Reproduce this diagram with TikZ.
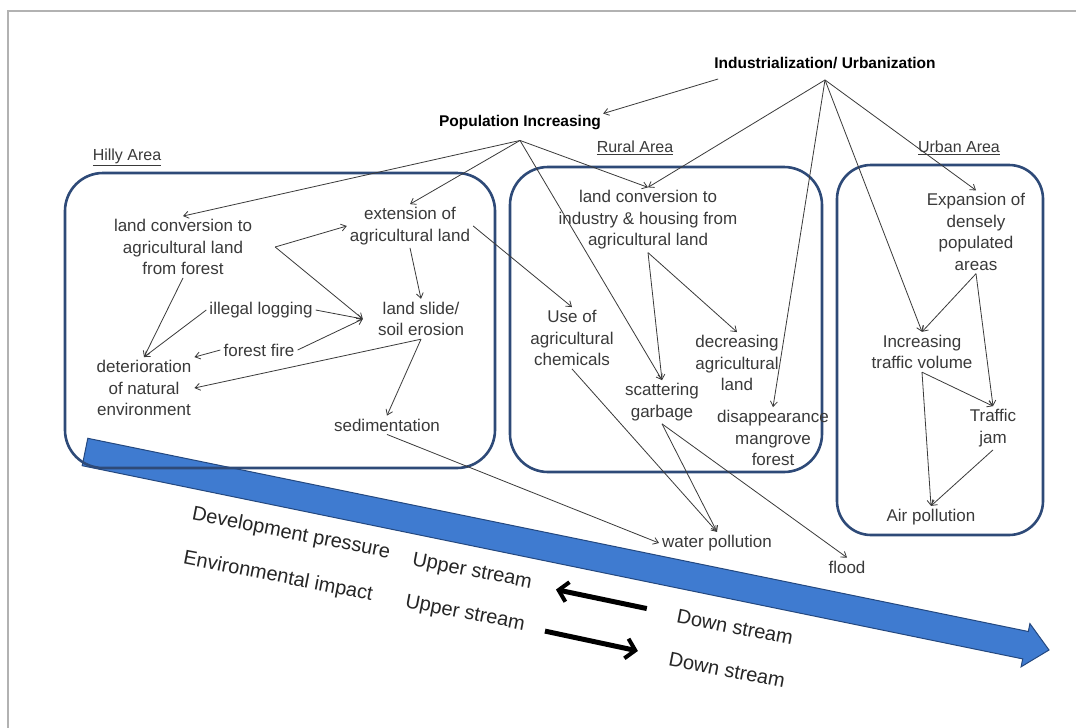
\documentclass[tikz,border=0pt]{standalone}
\usepackage{fontspec}
\setmainfont{Liberation Sans}
\usetikzlibrary{arrows.meta, positioning}
\definecolor{boxcol}{HTML}{2E4A78}
\definecolor{flowcol}{HTML}{3F7BD0}
\definecolor{flowedge}{HTML}{24487F}
\definecolor{inkcol}{HTML}{3A3A3A}

\begin{document}
\begin{tikzpicture}[x=1pt, y=-1pt,
  txt/.style={font=\fontsize{17}{21.5}\selectfont, text=inkcol, align=center, inner sep=3pt},
  head/.style={font=\fontsize{15.5}{18}\selectfont\bfseries, text=black, inner sep=2pt},
  area/.style={font=\fontsize{16}{19}\selectfont, text=inkcol, inner sep=2pt},
  region/.style={draw=boxcol, line width=2.6pt, rounded corners=38pt},
  conn/.style={-{Straight Barb[length=5pt, width=7pt]}, line width=0.8pt, draw=inkcol},
  stream/.style={font=\fontsize{20}{24}\selectfont, text=black!85, rotate=-11, inner sep=0pt},
  fat/.style={-{Straight Barb[length=9pt, width=20pt, line width=4pt]}, line width=5pt, black}
]
\useasboundingbox (0,0) rectangle (1076,728);
\fill[white] (0,0) rectangle (1076,728);
\draw[black!30, line width=1.5pt] (8,728) -- (8,11) -- (1076,11);

% River arrow
\filldraw[fill=flowcol, draw=flowedge, line width=1pt]
  (87.8,438.3) -- (1028.3,631.5) -- (1029.9,623.6) -- (1049,650)
  -- (1021.1,666.8) -- (1022.7,658.9) -- (82.2,465.7) -- cycle;

% Area boxes
\draw[region] (65,173) rectangle (495,468);
\draw[region] (510,167) rectangle (822,472);
\draw[region, rounded corners=34pt] (837,165) rectangle (1043,535);

% Drivers
\node[head] (ind) at (825,63) {Industrialization/ Urbanization};
\node[head] (pop) at (520,123) {Population Increasing};
\coordinate[below=9pt of ind.south] (indTip);
\coordinate[below=8pt of pop.south] (popTip);

% Area labels
\node[area] (hilly) at (127,157) {\underline{Hilly Area}};
\node[area] (rural) at (635,148) {\underline{Rural Area}};
\node[area] (urban) at (959,148) {\underline{Urban Area}};

% Hilly area
\node[txt] (lcf) at (183,247) {land conversion to\\agricultural land\\from forest};
\node[txt] (eal) at (410,226) {extension of\\agricultural land};
\node[txt] (il) at (261,310) {illegal logging};
\node[txt] (lsl) at (421,319) {land slide/\\soil erosion};
\node[txt] (ff) at (259,350) {forest fire};
\node[txt] (dne) at (144,388) {deterioration\\of natural\\environment};
\node[txt] (sed) at (387,425) {sedimentation};
\coordinate[right=20pt of lcf.east] (lcfOut);
\coordinate[left=12pt of lsl.west] (lslIn);

% Rural area
\node[txt] (lci) at (648,220) {land conversion to\\industry \& housing from\\agricultural land};
\node[txt] (uac) at (572,338) {Use of\\agricultural\\chemicals};
\node[txt] (dal) at (737,363) {decreasing\\agricultural\\land};
\node[txt] (sg) at (662,402) {scattering\\garbage};
\node[txt] (dmf) at (773,438) {disappearance\\mangrove\\forest};

% Urban area
\node[txt] (edp) at (976,232) {Expansion of\\densely\\populated\\areas};
\node[txt] (itv) at (922,352) {Increasing\\traffic volume};
\node[txt] (tj) at (993,428) {Traffic\\jam};
\node[txt] (ap) at (931,517) {Air pollution};

% Downstream effects
\node[txt] (wp) at (717,543) {water pollution};
\node[txt] (fl) at (847,567) {flood};

% Stream texts
\node[stream] (dp) at (291,534) {Development pressure};
\node[stream] (ei) at (278,577) {Environmental impact};
\node[stream] (us1) at (472,572) {Upper stream};
\node[stream] (us2) at (465,614) {Upper stream};
\node[stream] (ds1) at (735,627) {Down stream};
\node[stream] (ds2) at (727,670) {Down stream};
\draw[fat, shorten <=31pt, shorten >=25pt] (ds1) -- (us1);
\draw[fat, shorten <=21pt, shorten >=32pt] (us2) -- (ds2);

% Driver links
\draw[conn] ([xshift=6pt, yshift=-8pt]ind.south west) -- (pop.north east);
\foreach \t in {lci, dmf, itv, edp}
  \draw[conn] (indTip) -- (\t.north);
\foreach \t in {lcf, eal, lci, sg}
  \draw[conn] (popTip) -- (\t.north);

% Hilly links
\draw[conn] (lcfOut) -- (eal.west);
\draw[conn] (lcfOut) -- (lslIn);
\draw[conn] (eal.south) -- (lsl.north);
\draw[conn] (il.east) -- (lslIn);
\draw[conn] (ff.east) -- (lslIn);
\draw[conn] (lcf.south) -- (dne.north);
\draw[conn] (il.west) -- (dne.north);
\draw[conn] (ff.west) -- (dne.north east);
\draw[conn] (lsl.south) -- (dne.east);
\draw[conn] (lsl.south) -- (sed.north);
\draw[conn] (sed.south) -- (wp.west);
\draw[conn] (eal.east) -- (uac.north);

% Rural links
\draw[conn] (lci.south) -- (sg.north);
\draw[conn] (lci.south) -- (dal.north);
\draw[conn] (uac.south) -- (wp.north);
\draw[conn] (sg.south) -- (wp.north);
\draw[conn] (sg.south) -- (fl.north);

% Urban links
\draw[conn] (edp.south) -- (itv.north);
\draw[conn] (edp.south) -- (tj.north);
\draw[conn] (itv.south) -- (tj.north);
\draw[conn] (itv.south) -- (ap.north);
\draw[conn] (tj.south) -- (ap.north);
\end{tikzpicture}
\end{document}
